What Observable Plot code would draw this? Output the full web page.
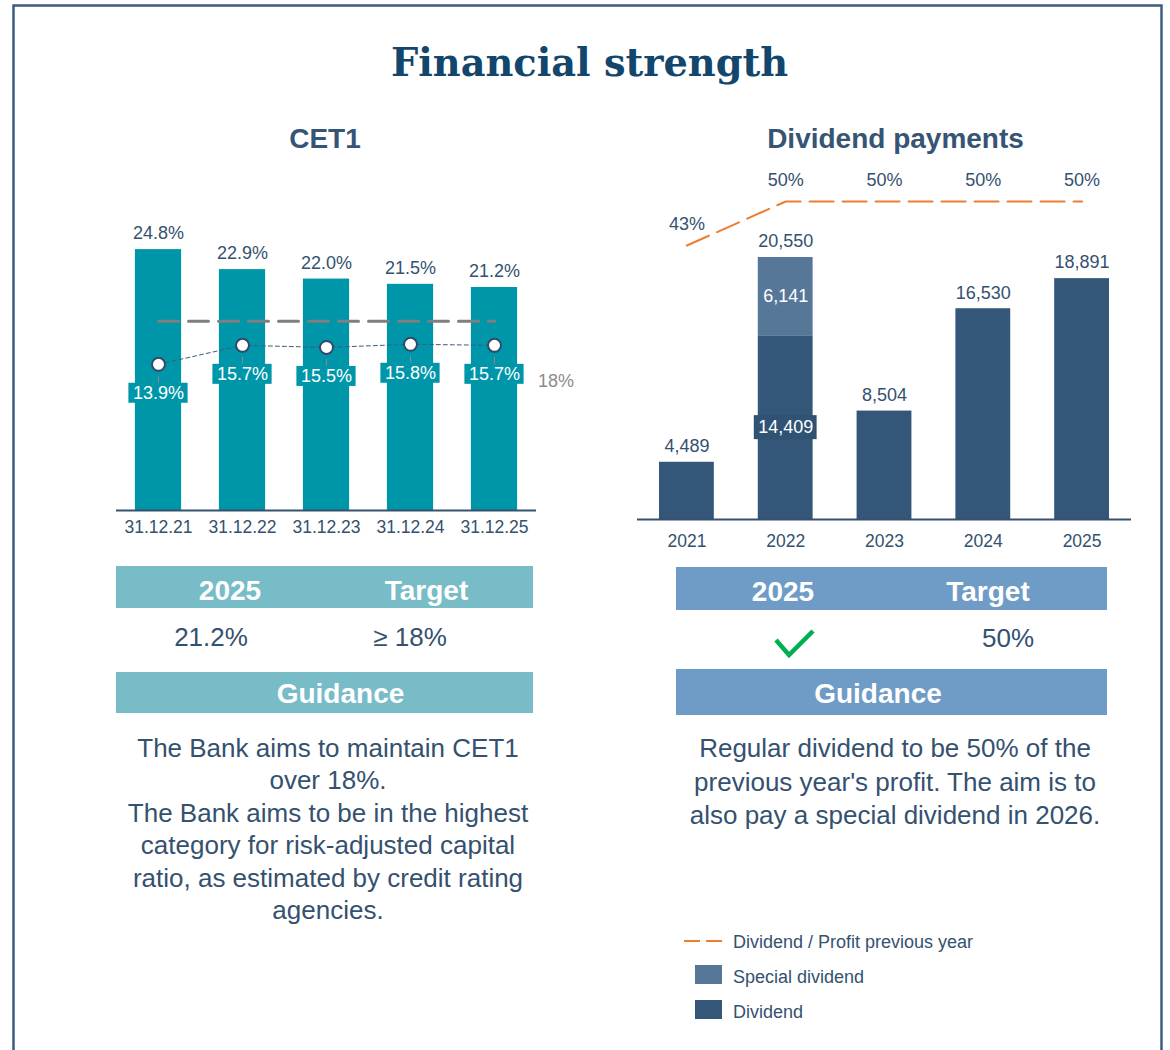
<!DOCTYPE html>
<html>
<head>
<meta charset="utf-8">
<script src="https://cdn.jsdelivr.net/npm/d3@7"></script>
<script src="https://cdn.jsdelivr.net/npm/@observablehq/plot@0.6"></script>
<style>
  html, body { margin: 0; padding: 0; background: #ffffff; }
  body { width: 1170px; height: 1050px; overflow: hidden; position: relative; font-family: "Liberation Sans", Arial, sans-serif; }
  .layer { position: absolute; }
  .layer svg { overflow: visible; }
</style>
</head>
<body>
<div id="deco" class="layer" style="left:0;top:0;"></div>
<div id="cet1" class="layer" style="left:0;top:160px;"></div>
<div id="div" class="layer" style="left:600px;top:160px;"></div>
<script>
// ---------- data ----------
const cet1Dates = ["31.12.21", "31.12.22", "31.12.23", "31.12.24", "31.12.25"];
const cet1Values = [24.8, 22.9, 22.0, 21.5, 21.2];
const cet1Lower = [13.9, 15.7, 15.5, 15.8, 15.7];
const cet1Target = 18;

const divYears = ["2021", "2022", "2023", "2024", "2025"];
const dividendValues = [4489, 14409, 8504, 16530, 18891];
const specialDividendValues = [0, 6141, 0, 0, 0];
const payoutRatio = [43, 50, 50, 50, 50];

const pageTitle = "Financial strength";
const cet1Title = "CET1";
const divTitle = "Dividend payments";
const tableHeaders = ["2025", "Target"];
const cet1TableValues = ["21.2%", "\u2265 18%"];
const divTableTarget = "50%";
const guidanceLabel = "Guidance";
const cet1Guidance = [
  "The Bank aims to maintain CET1",
  "over 18%.",
  "The Bank aims to be in the highest",
  "category for risk-adjusted capital",
  "ratio, as estimated by credit rating",
  "agencies."
];
const divGuidance = [
  "Regular dividend to be 50% of the",
  "previous year's profit. The aim is to",
  "also pay a special dividend in 2026."
];
const legendItems = ["Dividend / Profit previous year", "Special dividend", "Dividend"];

// ---------- styles ----------
const TEXT = "#34516f";
const TEAL = "#0096a9";
const NAVY = "#335679";
const SPECIAL = "#567798";
const ORANGE = "#ed7d31";
const FONT = "'Liberation Sans', Arial, sans-serif";

// ---------- CET1 chart ----------
const cetRows = cet1Dates.map((d, i) => ({date: d, cet1: cet1Values[i], lower: cet1Lower[i], target: cet1Target}));
const pct = v => v.toFixed(1) + "%";

const cetPlot = Plot.plot({
  width: 600, height: 400,
  marginLeft: 116, marginRight: 64, marginTop: 87, marginBottom: 50,
  x: {domain: cet1Dates, paddingInner: 0.45, paddingOuter: 0.225, round: false, label: null, tickSize: 0, tickPadding: 10},
  y: {domain: [0, 25], axis: null},
  style: {fontFamily: FONT, fontSize: "17.5px", color: TEXT, background: "transparent", overflow: "visible"},
  marks: [
    Plot.barY(cetRows, {x: "date", y: "cet1", fill: TEAL}),
    Plot.ruleY([0], {stroke: TEXT, strokeWidth: 2}),
    Plot.text(cetRows, {x: "date", y: "cet1", text: d => pct(d.cet1), dy: -16, fill: TEXT, fontSize: 18}),
    Plot.lineY(cetRows, {x: "date", y: "target", stroke: "#7f7f7f", strokeWidth: 3, strokeDasharray: "20,10"}),
    Plot.lineY(cetRows, {x: "date", y: "lower", stroke: "#3d5c7e", strokeWidth: 1, strokeDasharray: "4,3"}),
    Plot.ruleX(cetRows, {x: "date", y1: "lower", y2: "lower", insetTop: 12, insetBottom: -19, stroke: "#8a8a8a", strokeWidth: 1}),
    Plot.dot(cetRows, {x: "date", y: "lower", r: 6.5, fill: "white", stroke: "#2f4a6a", strokeWidth: 2}),
    Plot.barY(cetRows, {x: "date", y1: "lower", y2: "lower", insetTop: -10, insetBottom: -10, insetLeft: -6.5, insetRight: -6.5, dy: 29, fill: TEAL}),
    Plot.text(cetRows, {x: "date", y: "lower", dy: 29, text: d => pct(d.lower), fill: "white", fontSize: 18})
  ]
});
document.getElementById("cet1").appendChild(cetPlot);

// ---------- Dividend chart ----------
const fmt = d3.format(",");
const divRows = divYears.map((y, i) => ({
  year: y, dividend: dividendValues[i], special: specialDividendValues[i],
  total: dividendValues[i] + specialDividendValues[i], ratio: payoutRatio[i]
}));
// secondary axis: payout ratio (%) mapped onto the dividend axis
const ratioAxis = d3.scaleLinear().domain([40, 50]).range([20010, 24940]);
const withSpecial = divRows.filter(d => d.special > 0);

const divPlot = Plot.plot({
  width: 570, height: 400,
  marginLeft: 37, marginRight: 39, marginTop: 78.5, marginBottom: 41,
  x: {domain: divYears, paddingInner: 0.445, paddingOuter: 0.2225, round: false, label: null, tickSize: 0, tickPadding: 15},
  y: {domain: [0, 22000], axis: null},
  style: {fontFamily: FONT, fontSize: "17.5px", color: TEXT, background: "transparent", overflow: "visible"},
  marks: [
    Plot.barY(divRows, {x: "year", y1: 0, y2: "dividend", fill: NAVY}),
    Plot.barY(withSpecial, {x: "year", y1: "dividend", y2: "total", fill: SPECIAL}),
    Plot.ruleY([0], {stroke: TEXT, strokeWidth: 2}),
    Plot.text(divRows, {x: "year", y: "total", text: d => fmt(d.total), dy: -16, fill: TEXT, fontSize: 18}),
    Plot.text(withSpecial, {x: "year", y: d => d.dividend + d.special / 2, text: d => fmt(d.special), fill: "white", fontSize: 18}),
    Plot.barY(withSpecial, {x: "year", y1: d => d.dividend / 2, y2: d => d.dividend / 2, insetTop: -12, insetBottom: -12, insetLeft: -4, insetRight: -4, fill: "#2f5275"}),
    Plot.text(withSpecial, {x: "year", y: d => d.dividend / 2, text: d => fmt(d.dividend), fill: "white", fontSize: 18}),
    Plot.lineY(divRows, {x: "year", y: d => ratioAxis(d.ratio), stroke: ORANGE, strokeWidth: 2, strokeDasharray: "24,9"}),
    Plot.text(divRows, {x: "year", y: d => ratioAxis(d.ratio), text: d => d.ratio + "%", dy: -21, fill: TEXT, fontSize: 18})
  ]
});
document.getElementById("div").appendChild(divPlot);

// ---------- surrounding layout (titles, tables, guidance, legend) ----------
const svg = d3.select("#deco").append("svg").attr("width", 1170).attr("height", 1050)
  .style("font-family", FONT);

svg.append("rect").attr("x", 13.5).attr("y", 5.5).attr("width", 1148).attr("height", 1100)
  .attr("fill", "none").attr("stroke", "#3d5d80").attr("stroke-width", 2.5);

svg.append("text").attr("x", 589.5).attr("y", 76).attr("text-anchor", "middle")
  .attr("font-family", "'DejaVu Serif Condensed', 'DejaVu Serif', serif").attr("font-stretch", "condensed")
  .attr("font-weight", "bold").attr("font-size", 39).attr("fill", "#13466c")
  .attr("textLength", 397).attr("lengthAdjust", "spacingAndGlyphs").text(pageTitle);

function txt(x, y, s, size, opts = {}) {
  return svg.append("text").attr("x", x).attr("y", y).attr("text-anchor", opts.anchor || "middle")
    .attr("font-size", size).attr("font-weight", opts.weight || "normal")
    .attr("fill", opts.fill || TEXT).text(s);
}

txt(325, 148, cet1Title, 28, {weight: "bold", fill: "#365474"});
txt(895.5, 148, divTitle, 28, {weight: "bold", fill: "#365474"});
txt(556, 386.5, cet1Target + "%", 18, {fill: "#8c8c8c"});

// CET1 table
svg.append("rect").attr("x", 116).attr("y", 566).attr("width", 417).attr("height", 42).attr("fill", "#78bcc8");
txt(230, 600, tableHeaders[0], 28, {weight: "bold", fill: "white"});
txt(426.5, 600, tableHeaders[1], 28, {weight: "bold", fill: "white"});
txt(211, 646, cet1TableValues[0], 26);
txt(410, 646, cet1TableValues[1], 26);
svg.append("rect").attr("x", 116).attr("y", 672).attr("width", 417).attr("height", 41).attr("fill", "#78bcc8");
txt(340.5, 703, guidanceLabel, 28, {weight: "bold", fill: "white"});
cet1Guidance.forEach((l, i) => txt(328, 757 + i * 32.4, l, 26));

// Dividend table
svg.append("rect").attr("x", 676).attr("y", 567).attr("width", 431).attr("height", 43).attr("fill", "#6f9cc6");
txt(783, 601, tableHeaders[0], 28, {weight: "bold", fill: "white"});
txt(988, 601, tableHeaders[1], 28, {weight: "bold", fill: "white"});
svg.append("polyline").attr("points", "776,640 789,655 813,631").attr("fill", "none")
  .attr("stroke", "#00b050").attr("stroke-width", 4.5);
txt(1008, 647, divTableTarget, 26);
svg.append("rect").attr("x", 676).attr("y", 669).attr("width", 431).attr("height", 46).attr("fill", "#6f9cc6");
txt(878, 703, guidanceLabel, 28, {weight: "bold", fill: "white"});
divGuidance.forEach((l, i) => txt(895, 757 + i * 33.5, l, 26));

// Legend
svg.append("line").attr("x1", 684).attr("x2", 722).attr("y1", 941).attr("y2", 941)
  .attr("stroke", ORANGE).attr("stroke-width", 2).attr("stroke-dasharray", "16,6");
svg.append("rect").attr("x", 695).attr("y", 965).attr("width", 27).attr("height", 19).attr("fill", SPECIAL);
svg.append("rect").attr("x", 695).attr("y", 1000).attr("width", 27).attr("height", 19).attr("fill", NAVY);
legendItems.forEach((l, i) => txt(733, 947.5 + i * 35, l, 18, {anchor: "start"}));
</script>
</body>
</html>
